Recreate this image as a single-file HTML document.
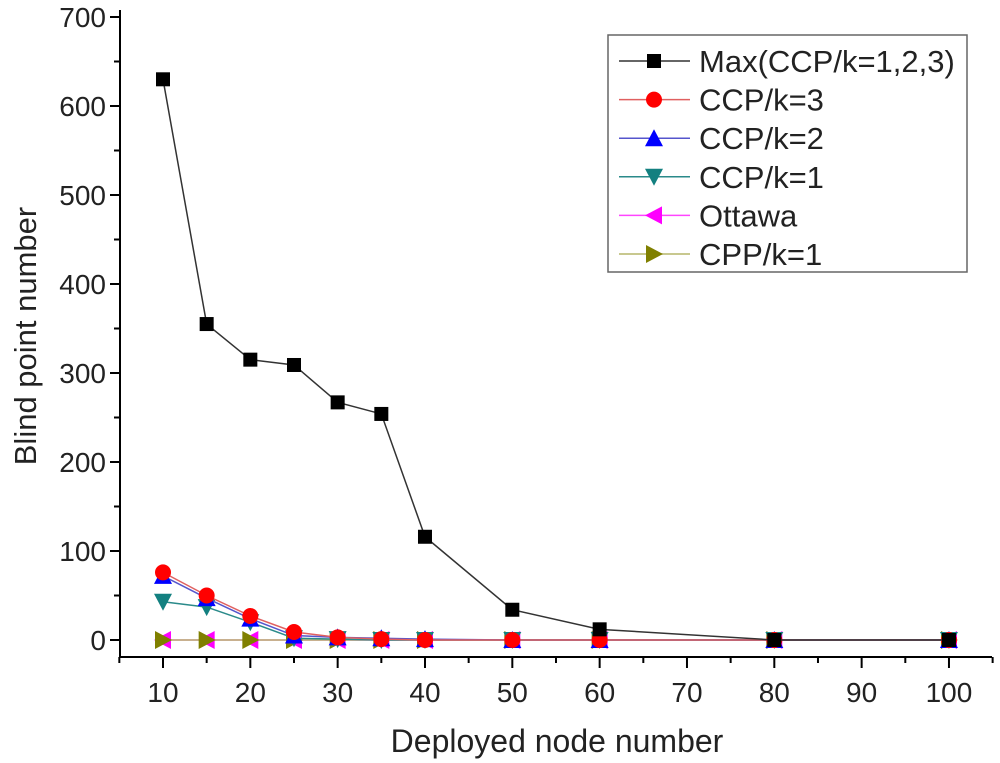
<!DOCTYPE html>
<html><head><meta charset="utf-8"><style>
body{margin:0;background:#fff;}
svg{display:block;font-family:"Liberation Sans",Arial,sans-serif;}
</style></head><body>
<svg id="chart" width="1000" height="763" viewBox="0 0 1000 763">
<g id="axes"></g><g id="series"></g><g id="legend"></g>
</svg>
<script>
const categories=[10,15,20,25,30,35,40,50,60,80,100];
const maxSeries=[630,355,315,309,267,254,116,34,12,0,0];
const ccp3=[76,50,27,9,3,1,0,0,0,0,0];
const ccp2=[72,47,24,5,3,2,1,0,0,0,0];
const ccp1=[43,37,20,2,1,0,0,0,0,0,0];
const ottawa=[0,0,0,0,0,0,0,0,0,0,0];
const cpp1=[0,0,0,0,0,0,0,0,0,0,0];
const xTicks=[10,20,30,40,50,60,70,80,90,100];
const yTicks=[0,100,200,300,400,500,600,700];
const seriesNames=["Max(CCP/k=1,2,3)","CCP/k=3","CCP/k=2","CCP/k=1","Ottawa","CPP/k=1"];

const NS="http://www.w3.org/2000/svg";
const X=v=>163+(v-10)*8.733;
const Y=v=>640-v*0.89;
function mk(tag,attrs,parent){const e=document.createElementNS(NS,tag);for(const k in attrs)e.setAttribute(k,attrs[k]);parent.appendChild(e);return e;}
const axes=document.getElementById('axes'),sg=document.getElementById('series'),lg=document.getElementById('legend');

let a=mk('line',{x1:120,y1:10,x2:120,y2:657,stroke:'#000','stroke-width':2},axes);


a=mk('line',{x1:120,y1:657,x2:992,y2:657,stroke:'#000','stroke-width':2},axes);


yTicks.forEach(v=>{
 mk('line',{x1:110,y1:Y(v),x2:120,y2:Y(v),stroke:'#000','stroke-width':2},axes);
 if(v<700) mk('line',{x1:114,y1:Y(v+50),x2:120,y2:Y(v+50),stroke:'#000','stroke-width':2},axes);
 const t=mk('text',{x:106,y:Y(v)+10,'text-anchor':'end','font-size':28,fill:'#222'},axes);t.textContent=v;
 
 
});
xTicks.forEach(v=>{
 mk('line',{x1:X(v),y1:657,x2:X(v),y2:668,stroke:'#000','stroke-width':2},axes);
 mk('line',{x1:X(v-5),y1:657,x2:X(v-5),y2:663,stroke:'#000','stroke-width':2},axes);
 const t=mk('text',{x:X(v),y:702,'text-anchor':'middle','font-size':28,fill:'#222'},axes);t.textContent=v;
 
 
});
mk('line',{x1:X(105),y1:657,x2:X(105),y2:663,stroke:'#000','stroke-width':2},axes);
let t=mk('text',{x:557,y:752,'text-anchor':'middle','font-size':32,fill:'#222'},axes);t.textContent='Deployed node number';


t=mk('text',{x:0,y:0,'text-anchor':'middle','font-size':31,fill:'#222',transform:'translate(36,336) rotate(-90)'},axes);t.textContent='Blind point number';



function marker(type,x,y,fill,p){
 const s=8;
 if(type==='sq')return mk('rect',{x:x-s+1,y:y-s+1,width:2*s-2,height:2*s-2,fill},p);
 if(type==='ci')return mk('circle',{cx:x,cy:y,r:s,fill},p);
 let pts;
 if(type==='up')pts=[[x,y-s-1],[x-s-1,y+s],[x+s+1,y+s]];
 if(type==='dn')pts=[[x,y+s+1],[x-s-1,y-s],[x+s+1,y-s]];
 if(type==='lf')pts=[[x-s-1,y],[x+s,y-s-1],[x+s,y+s+1]];
 if(type==='rt')pts=[[x+s+1,y],[x-s,y-s-1],[x-s,y+s+1]];
 return mk('polygon',{points:pts.map(q=>q.join(',')).join(' '),fill},p);
}
const defs=[
 {d:ottawa,line:'#ff44ff',fill:'#ff00ff',m:'lf',n:'series-ottawa'},
 {d:cpp1,line:'#b5b56a',fill:'#808000',m:'rt',n:'series-cpp-k1'},
 {d:ccp1,line:'#2a8a8a',fill:'#138080',m:'dn',n:'series-ccp-k1'},
 {d:ccp2,line:'#5555cc',fill:'#0000ff',m:'up',n:'series-ccp-k2'},
 {d:ccp3,line:'#e06060',fill:'#ff0000',m:'ci',n:'series-ccp-k3'},
 {d:maxSeries,line:'#333',fill:'#000',m:'sq',n:'series-max'}
];
defs.forEach(s=>{
 const g=mk('g',{},sg);
 
 
 mk('polyline',{points:categories.map((c,i)=>X(c)+','+Y(s.d[i])).join(' '),fill:'none',stroke:s.line,'stroke-width':1.5},g);
 categories.forEach((c,i)=>{const m=marker(s.m,X(c),Y(s.d[i]),s.fill,g);
  
  });
});
const box=mk('rect',{x:608,y:35,width:359,height:237,fill:'#fff',stroke:'#666','stroke-width':1.5},lg);


const ld=[defs[5],defs[4],defs[3],defs[2],defs[0],defs[1]];
ld.forEach((s,i)=>{
 const y=61+i*38.6;
 const g=mk('g',{},lg);
 
 
 mk('line',{x1:619,y1:y,x2:690,y2:y,stroke:s.line,'stroke-width':1.5},g);
 marker(s.m,654,y,s.fill,g);
 const tt=mk('text',{x:699,y:y+11,'font-size':31,fill:'#222'},g);tt.textContent=seriesNames[i];
});
</script>
</body></html>
